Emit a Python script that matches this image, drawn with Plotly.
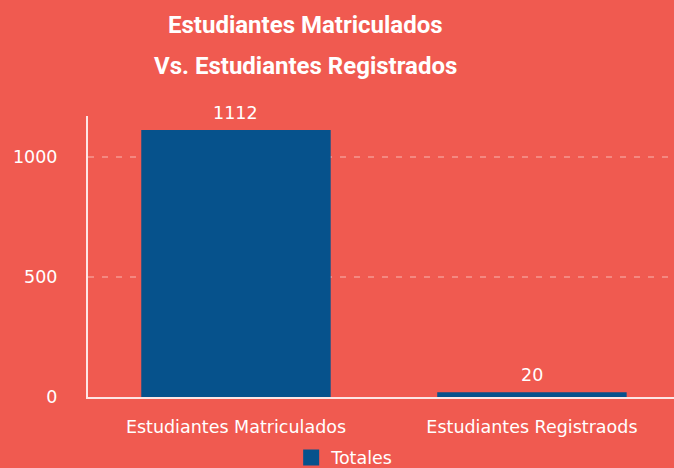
import plotly.graph_objects as go

categories = ["Estudiantes Matriculados", "Estudiantes Registraods"]
totales = [1112, 20]
tick_vals = [0, 500, 1000]
tick_text = ["0", "500", "1000"]
title_line1 = "Estudiantes Matriculados"
title_line2 = "Vs. Estudiantes Registrados"

bg = "#F05A50"
bar_color = "#06528C"
font_family = "DejaVu Sans"
fs = 17.5

fig = go.Figure()
fig.add_trace(go.Bar(
    x=categories, y=totales, name="Totales",
    marker=dict(color=bar_color, line=dict(width=0)),
    cliponaxis=False, width=0.64, showlegend=False,
))
# legend entry (larger square swatch)
fig.add_trace(go.Scatter(
    x=[categories[0]], y=[None], mode="markers", name="Totales",
    marker=dict(symbol="square", size=17, color=bar_color),
    showlegend=True, hoverinfo="skip",
))

annotations = [
    dict(text="<b>" + title_line1 + "</b>", xref="paper", yref="paper",
         x=0.372, y=1.324, xanchor="center", yanchor="middle", showarrow=False,
         font=dict(color="white", size=24, family="Roboto")),
    dict(text="<b>" + title_line2 + "</b>", xref="paper", yref="paper",
         x=0.372, y=1.178, xanchor="center", yanchor="middle", showarrow=False,
         font=dict(color="white", size=24, family="Roboto")),
]
for c, v in zip(categories, totales):
    annotations.append(dict(
        text=str(v), x=c, y=v, xref="x", yref="y", showarrow=False,
        xanchor="center", yanchor="middle", yshift=17,
        font=dict(color="white", size=fs, family=font_family),
    ))

fig.update_layout(
    width=674, height=468,
    paper_bgcolor=bg, plot_bgcolor=bg,
    margin=dict(l=88, r=0, t=116, b=71, autoexpand=False),
    showlegend=True,
    legend=dict(orientation="h", x=0.438, xanchor="center", y=-0.152, yanchor="top",
                font=dict(color="white", size=fs, family=font_family),
                bgcolor="rgba(0,0,0,0)"),
    annotations=annotations,
    hovermode=False,
)
fig.update_xaxes(
    range=[-0.5, 1.48], showline=True, linecolor="rgba(255,255,255,0.85)", linewidth=2,
    showgrid=False, ticks="", tickfont=dict(color="white", size=fs, family=font_family),
    ticklabelstandoff=13, fixedrange=True,
)
fig.update_yaxes(
    range=[0, 1170], showline=True, linecolor="rgba(255,255,255,0.85)", linewidth=2,
    showgrid=True, gridcolor="rgba(255,255,255,0.28)", griddash="6px,8px", gridwidth=1.5,
    zeroline=False, tickvals=tick_vals, ticktext=tick_text, ticks="",
    tickfont=dict(color="white", size=fs, family=font_family),
    ticklabelstandoff=25, fixedrange=True,
)
fig.write_html(
    "out.html",
    config={"displayModeBar": False},
    post_script="document.body.style.margin='0';document.body.style.overflow='hidden';",
)
